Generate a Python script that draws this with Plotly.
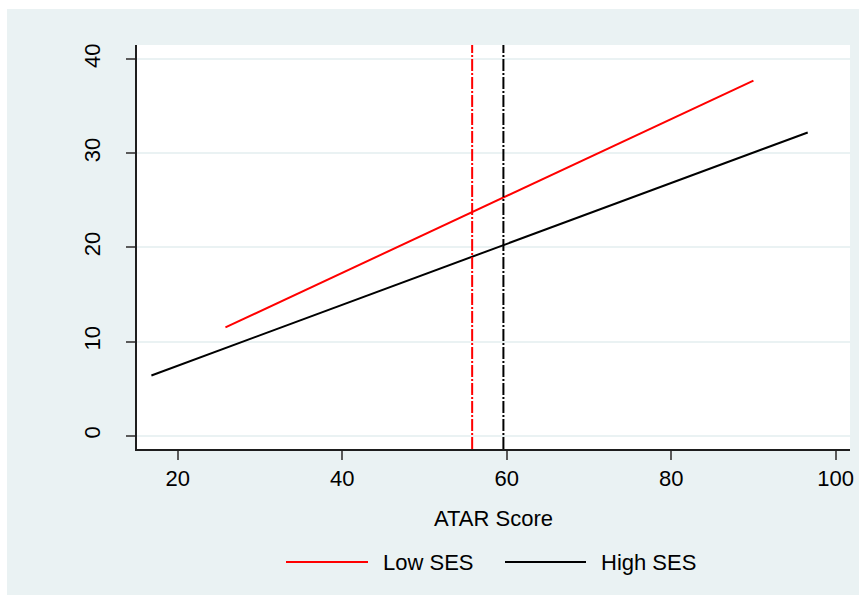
import plotly.graph_objects as go

# ---- data ----
series_names = ["Low SES", "High SES"]
series_colors = ["#ff0000", "#000000"]
low_x = [25.8, 90.0]
low_y = [11.5, 37.7]
high_x = [16.8, 96.6]
high_y = [6.4, 32.2]
vline_x = [55.8, 59.6]          # mean ATAR per group (Low, High)
x_ticks = [20, 40, 60, 80, 100]
y_ticks = [0, 10, 20, 30, 40]
x_title = "ATAR Score"

BG = "#eaf2f3"
FONT = "Liberation Sans, Arial, sans-serif"
FS = 22

W, H = 859, 595
L, R, T, B = 137, 850, 45, 449   # plot area in px
pw, ph = R - L, B - T

def px(x):
    return (x - L) / pw

def py(y):
    return (B - y) / ph

fig = go.Figure()
for xs, ys, name, col in [(low_x, low_y, series_names[0], series_colors[0]),
                          (high_x, high_y, series_names[1], series_colors[1])]:
    fig.add_trace(go.Scatter(x=xs, y=ys, mode="lines", name=name,
                             line=dict(color=col, width=2), showlegend=False))

for v, col in zip(vline_x, series_colors):
    fig.add_vline(x=v, line=dict(color=col, width=2, dash="12px,2px,2px,2px"), layer="above")

shapes = []
annotations = []
# white page strips (top and left) outside the graph region
shapes.append(dict(type="rect", xref="paper", yref="paper",
                   x0=px(0), x1=px(W + 10), y0=py(9), y1=py(-5),
                   fillcolor="white", line=dict(width=0), layer="below"))
shapes.append(dict(type="rect", xref="paper", yref="paper",
                   x0=px(-5), x1=px(7), y0=py(H + 5), y1=py(-5),
                   fillcolor="white", line=dict(width=0), layer="below"))

# custom legend
leg = [(286, 368, 381), (505, 586, 599)]
ly = 562
for (x0, x1, tx), name, col in zip(leg, series_names, series_colors):
    shapes.append(dict(type="line", xref="paper", yref="paper",
                       x0=px(x0), x1=px(x1), y0=py(ly), y1=py(ly),
                       line=dict(color=col, width=2)))
    annotations.append(dict(xref="paper", yref="paper", x=px(tx), y=py(ly),
                            text=name, showarrow=False, xanchor="left", yanchor="middle",
                            font=dict(family=FONT, size=FS, color="#000000")))

fig.update_layout(
    width=W, height=H, autosize=False,
    margin=dict(l=L, r=W - R - 4, t=T, b=H - B, pad=0),
    paper_bgcolor=BG, plot_bgcolor="white",
    font=dict(family=FONT, size=FS, color="#000000"),
    showlegend=False,
    shapes=list(fig.layout.shapes) + shapes,
    annotations=annotations,
)

fig.update_xaxes(
    range=[15.05, 101.74], tickvals=x_ticks, ticktext=[str(t) for t in x_ticks],
    showgrid=False, zeroline=False,
    showline=True, linecolor="#1e1e1e", linewidth=1.5,
    ticks="outside", ticklen=9, tickwidth=2, tickcolor="#5a5a5a",
    tickfont=dict(family=FONT, size=FS, color="#000000"),
    title=dict(text=x_title, font=dict(family=FONT, size=FS, color="#000000"), standoff=20),
)
fig.update_yaxes(
    range=[-1.41, 41.49], tickvals=y_ticks, ticktext=[str(t) for t in y_ticks],
    showgrid=True, gridcolor=BG, gridwidth=2, zeroline=False,
    showline=True, linecolor="#1e1e1e", linewidth=1.5,
    ticks="outside", ticklen=9, tickwidth=2, tickcolor="#5a5a5a",
    tickangle=-90, ticklabelstandoff=17,
    tickfont=dict(family=FONT, size=FS, color="#000000"),
)

fig.write_html(
    "out.html",
    config={"displayModeBar": False, "responsive": False},
    post_script=("document.body.style.margin='0';document.body.style.overflow='hidden';"
                 "document.body.style.background='" + BG + "';"),
)
